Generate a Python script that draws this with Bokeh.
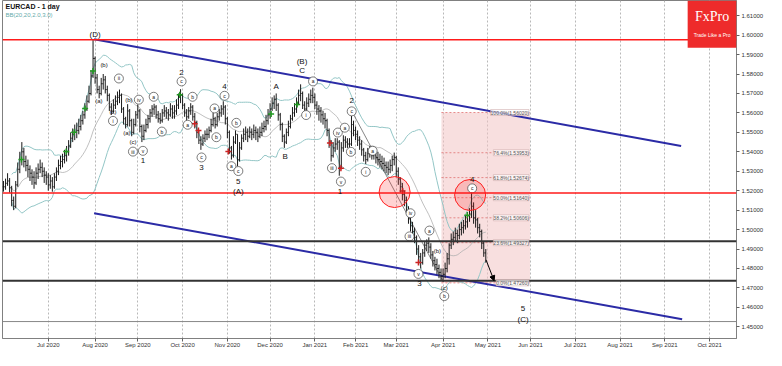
import numpy as np
import pandas as pd
from bokeh.plotting import figure
from bokeh.models import (ColumnDataSource, Range1d, FixedTicker, Span, BoxAnnotation,
                          Label, LabelSet, Arrow, NormalHead, NumeralTickFormatter)
from bokeh.embed import file_html
from bokeh.resources import INLINE
from bokeh.core.properties import value

# ---------------- data (prices in 1e-4 units, one bar per trading day from 1 Jun 2020) -------------
close = [15220,15238,15250,15215,15150,15120,15230,15310,15360,15400,
         15350,15330,15310,15290,15270,15240,15290,15310,15320,15300,
         15280,15270,15230,15250,15220,15270,15300,15330,15350,15360,
         15380,15400,15430,15470,15490,15500,15510,15530,15560,15590,
         15620,15660,15700,15790,15880,15780,15720,15700,15750,15770,
         15720,15690,15630,15610,15640,15660,15680,15690,15620,15570,
         15540,15610,15560,15500,15540,15590,15610,15530,15480,15510,
         15540,15570,15600,15620,15630,15590,15570,15560,15600,15610,
         15600,15590,15620,15600,15610,15640,15680,15690,15640,15600,
         15580,15610,15630,15580,15550,15500,15460,15440,15470,15490,
         15490,15510,15540,15570,15540,15580,15600,15620,15630,15570,
         15500,15420,15380,15450,15490,15360,15420,15470,15490,15500,
         15480,15500,15490,15510,15500,15480,15500,15520,15530,15560,
         15590,15620,15650,15670,15640,15590,15540,15480,15450,15500,
         15530,15570,15600,15620,15650,15690,15700,15640,15620,15650,
         15670,15690,15680,15640,15620,15610,15590,15570,15560,15510,
         15450,15380,15420,15440,15450,15320,15420,15460,15450,15440,
         15440,15540,15510,15490,15460,15440,15410,15380,15360,15390,
         15400,15380,15390,15370,15360,15350,15340,15330,15320,15310,
         15330,15360,15370,15300,15260,15220,15180,15150,15100,15060,
         15020,14990,14960,14900,14860,14830,14880,14920,14930,14910,
         14870,14840,14820,14800,14780,14760,14770,14800,14850,14920,
         14950,14960,14980,14970,15000,15010,15020,15040,15070,15080,
         15120,15060,15050,15010,14990,14930,14880,14842]
high = [15250,15262,15290,15265,15225,15170,15250,15345,15400,15450,
        15420,15380,15360,15330,15310,15300,15320,15340,15360,15345,
        15320,15300,15290,15280,15270,15290,15320,15360,15380,15390,
        15410,15430,15460,15500,15520,15540,15550,15570,15590,15610,
        15650,15690,15740,15820,15976,15890,15800,15740,15780,15800,
        15790,15740,15700,15650,15670,15690,15710,15720,15700,15630,
        15580,15645,15620,15570,15570,15610,15643,15620,15540,15540,
        15570,15590,15620,15640,15647,15640,15610,15600,15620,15640,
        15630,15620,15650,15640,15640,15670,15700,15722,15700,15650,
        15620,15630,15650,15640,15600,15560,15510,15480,15490,15510,
        15520,15530,15570,15600,15580,15600,15620,15640,15660,15640,
        15580,15510,15430,15480,15510,15490,15450,15490,15520,15530,
        15520,15530,15520,15540,15530,15520,15530,15550,15560,15590,
        15620,15650,15680,15690,15700,15650,15600,15550,15490,15520,
        15560,15590,15630,15650,15680,15720,15747,15710,15660,15680,
        15700,15720,15730,15700,15660,15640,15630,15610,15600,15570,
        15520,15460,15450,15470,15470,15460,15450,15485,15480,15470,
        15470,15584,15560,15530,15510,15480,15460,15420,15400,15420,
        15430,15420,15420,15410,15400,15390,15380,15370,15350,15350,
        15360,15380,15396,15380,15320,15270,15240,15200,15170,15120,
        15080,15040,15010,14970,14920,14880,14900,14940,14950,14960,
        14930,14890,14860,14850,14820,14800,14800,14830,14880,14930,
        14980,14990,15010,15000,15030,15040,15050,15070,15090,15110,
        15193,15140,15100,15060,15030,15000,14940,14900]
low = [15195,15205,15225,15190,15120,15100,15110,15220,15290,15330,
       15320,15300,15270,15250,15230,15210,15230,15260,15290,15270,
       15240,15230,15200,15210,15195,15210,15250,15280,15310,15320,
       15340,15350,15380,15420,15450,15460,15470,15490,15510,15540,
       15570,15610,15650,15690,15780,15750,15700,15675,15690,15720,
       15700,15660,15610,15590,15600,15620,15640,15650,15600,15540,
       15520,15530,15530,15480,15490,15530,15570,15500,15450,15460,
       15500,15520,15550,15580,15590,15570,15550,15544,15550,15580,
       15570,15560,15580,15570,15570,15590,15620,15650,15620,15580,
       15560,15570,15590,15560,15520,15470,15440,15410,15430,15450,
       15460,15470,15500,15530,15520,15530,15560,15580,15590,15540,
       15470,15390,15360,15370,15440,15326,15350,15410,15450,15460,
       15450,15470,15460,15470,15460,15450,15470,15480,15500,15510,
       15540,15570,15610,15620,15610,15560,15510,15450,15420,15440,
       15480,15520,15560,15580,15600,15640,15660,15620,15600,15610,
       15630,15650,15650,15620,15590,15560,15550,15540,15520,15480,
       15420,15350,15370,15400,15410,15277,15310,15400,15420,15420,
       15420,15430,15480,15460,15430,15410,15380,15350,15337,15350,
       15370,15360,15360,15340,15330,15320,15310,15300,15290,15280,
       15290,15300,15330,15270,15230,15190,15150,15120,15080,15030,
       14990,14970,14930,14870,14830,14800,14820,14860,14890,14880,
       14850,14810,14790,14770,14750,14740,14731,14750,14780,14820,
       14900,14920,14940,14930,14950,14970,14980,15000,15010,15040,
       15060,15030,15010,14980,14960,14900,14860,14830]

month_ticks = [22, 45, 66, 88, 110, 131, 153, 173, 193, 216, 238, 259, 281, 303, 325, 347]
month_labels = ["Jul 2020", "Aug 2020", "Sep 2020", "Oct 2020", "Nov 2020", "Dec 2020",
                "Jan 2021", "Feb 2021", "Mar 2021", "Apr 2021", "May 2021", "Jun 2021",
                "Jul 2021", "Aug 2021", "Sep 2021", "Oct 2021"]
price_ticks = [1.45, 1.46, 1.47, 1.48, 1.49, 1.50, 1.51, 1.52, 1.53, 1.54, 1.55, 1.56, 1.57, 1.58, 1.59, 1.60, 1.61]

# horizontal levels
red_levels = [1.5976, 1.5188]
black_levels = [1.4940, 1.4737]
gray_level = 1.45271
last_price = 1.48418

# channel lines (bar index, price)
chan_up_x, chan_up_y = [44.5, 333.0], [1.5979, 1.5430]
chan_lo_x, chan_lo_y = [44.5, 333.5], [1.5084, 1.4539]
trend_x, trend_y = [171.2, 216.1], [1.5608, 1.4732]
arrow_pts = [(237.2, 1.4842), (241.1, 1.4737)]

# fibonacci retracement
fib_x0, fib_x1 = 215.2, 258.7
fib_lo, fib_hi = 1.47260, 1.56020
fib_levels = [0.0, 23.6, 38.2, 50.0, 61.8, 76.4, 100.0]

# highlight circles
circ_x, circ_y = [192.2, 229.3], [1.5193, 1.5178]

# wave labels
big_lbl = [("(D)", 45.0, 1.6004), ("2", 87.5, 1.5806), ("4", 108.6, 1.5737), ("1", 68.5, 1.5356),
           ("3", 97.3, 1.5321), ("5", 115.4, 1.5247), ("(A)", 115.4, 1.5198), ("A", 134.0, 1.5737),
           ("B", 138.4, 1.5376), ("(B)", 146.7, 1.5866), ("C", 146.7, 1.5816), ("1", 165.3, 1.5198),
           ("2", 171.1, 1.5663), ("3", 204.4, 1.4722), ("4", 230.3, 1.5257), ("5", 255.3, 1.4594),
           ("(C)", 255.3, 1.4539)]
par_lbl = [("(a)", 46.9, 1.5663), ("(b)", 49.4, 1.5846), ("(c)", 53.8, 1.5604), ("(a)", 60.6, 1.5495),
           ("(b)", 61.6, 1.5668), ("(c)", 63.6, 1.5450), ("(b)", 213.2, 1.4891), ("(c)", 216.6, 1.4702)]
circ_lbl = [("i", 53.8, 1.5559), ("ii", 56.7, 1.5777), ("iii", 63.6, 1.5401), ("iv", 66.5, 1.5668),
            ("v", 68.5, 1.5405), ("a", 73.8, 1.5683), ("b", 77.8, 1.5504), ("c", 87.5, 1.5762),
            ("a", 90.5, 1.5539), ("b", 92.9, 1.5683), ("c", 97.3, 1.5371), ("a", 103.7, 1.5623),
            ("b", 104.6, 1.5475), ("c", 108.6, 1.5688), ("a", 112.0, 1.5326), ("b", 114.4, 1.5549),
            ("c", 115.4, 1.5301), ("a", 152.1, 1.5762), ("i", 148.7, 1.5589), ("iii", 161.4, 1.5316),
            ("iv", 164.3, 1.5499), ("v", 165.8, 1.5247), ("a", 167.7, 1.5524), ("b", 170.7, 1.5400),
            ("c", 171.1, 1.5608), ("i", 178.0, 1.5297), ("a", 181.4, 1.5405), ("iv", 200.0, 1.5084),
            ("iii", 199.5, 1.4965), ("v", 203.9, 1.4772), ("a", 209.3, 1.4995), ("b", 216.6, 1.4658),
            ("c", 230.3, 1.5212)]
green_x = [8.8, 30.8, 34.7, 40.1, 44.0, 86.6, 131.5, 144.3, 227.9]
green_y = [1.5361, 1.5401, 1.5500, 1.5623, 1.5816, 1.5693, 1.5594, 1.5643, 1.5074]
red_x = [93.9, 95.8, 110.5, 160.4, 165.8, 196.1, 203.9]
red_y = [1.5544, 1.5509, 1.5401, 1.5445, 1.5316, 1.5198, 1.4831]

# ---------------- build ----------------
FONT = "Liberation Sans"
n = len(close)
idx = np.arange(n)
c = np.array(close) / 1e4
o = np.concatenate([[c[0]], c[:-1]])
h = np.maximum(np.array(high) / 1e4, np.maximum(o, c))
l = np.minimum(np.array(low) / 1e4, np.minimum(o, c))

s = pd.Series(c)
mid = s.rolling(20, min_periods=5).mean()
sd = s.rolling(20, min_periods=5).std(ddof=0)
bb = ColumnDataSource(dict(x=idx, mid=mid, up=mid + 2 * sd, lo=mid - 2 * sd))

X_END = 360.2
Y_LO, Y_HI = 1.4440, 1.6178
p = figure(width=766, height=350, x_range=Range1d(-0.5, X_END), y_range=Range1d(Y_LO, Y_HI),
           output_backend="svg", toolbar_location=None, y_axis_location="right",
           min_border_left=2, min_border_top=0, min_border_bottom=0, min_border_right=0,
           background_fill_color="white", border_fill_color="white")
p.outline_line_color = "#808080"

p.xaxis.ticker = FixedTicker(ticks=month_ticks)
p.xaxis.major_label_overrides = {t: lab for t, lab in zip(month_ticks, month_labels)}
p.yaxis.ticker = FixedTicker(ticks=price_ticks)
p.yaxis.formatter = NumeralTickFormatter(format="0.00000")
for ax in (p.xaxis, p.yaxis):
    ax.major_label_text_font_size = "6px"
    ax.major_label_text_font = FONT
    ax.major_label_text_color = "#333333"
    ax.axis_line_color = "#808080"
    ax.major_tick_line_color = "#606060"
    ax.minor_tick_line_color = None
    ax.major_tick_out = 3
    ax.major_tick_in = 0
p.xaxis.major_label_standoff = 0
p.yaxis.major_label_standoff = 2
p.xgrid.ticker = FixedTicker(ticks=month_ticks)
p.xgrid.grid_line_color = "#b8b8b8"
p.xgrid.grid_line_dash = "2 2"
p.ygrid.grid_line_color = None

# fibonacci box
p.add_layout(BoxAnnotation(left=fib_x0, right=fib_x1, bottom=fib_lo, top=fib_hi,
                           fill_color="#f3c4c4", fill_alpha=0.55, line_color=None, level="underlay"))
fib_prices = [fib_lo + (fib_hi - fib_lo) * f / 100 for f in fib_levels]
p.segment(x0=[fib_x0] * len(fib_prices), x1=[fib_x1] * len(fib_prices), y0=fib_prices, y1=fib_prices,
          line_color="#e07070", line_width=0.8, line_dash="2 2")

# bollinger
p.line("x", "up", source=bb, line_color="#93c6c6", line_width=1)
p.line("x", "lo", source=bb, line_color="#93c6c6", line_width=1)
p.line("x", "mid", source=bb, line_color="#b0b0b0", line_width=0.8)

# horizontal levels
for lv in red_levels:
    p.add_layout(Span(location=lv, dimension="width", line_color="#ff1a1a", line_width=1.6))
for lv in black_levels:
    p.add_layout(Span(location=lv, dimension="width", line_color="#333333", line_width=2))
p.add_layout(Span(location=gray_level, dimension="width", line_color="#888888", line_width=1))

# channels and trend line
p.line(chan_up_x, chan_up_y, line_color="#2b2ba6", line_width=2)
p.line(chan_lo_x, chan_lo_y, line_color="#2b2ba6", line_width=2)
p.line(trend_x, trend_y, line_color="#666666", line_width=0.8)

# OHLC bars
p.segment(x0=idx, x1=idx, y0=l, y1=h, line_color="#1a1a1a", line_width=1)
p.segment(x0=idx - 0.45, x1=idx, y0=o, y1=o, line_color="#1a1a1a", line_width=1)
p.segment(x0=idx, x1=idx + 0.45, y0=c, y1=c, line_color="#1a1a1a", line_width=1)

# circles
p.scatter(circ_x, circ_y, size=31, marker="circle", fill_color="#ff3030", fill_alpha=0.22,
          line_color="#ff2020", line_width=1)

# signal markers
p.scatter(green_x, green_y, marker="cross", size=6, line_color="#229922", line_width=1.5)
p.scatter(red_x, red_y, marker="cross", size=6, line_color="#cc2222", line_width=1.5)

# wave labels
src_big = ColumnDataSource(dict(t=[a[0] for a in big_lbl], x=[a[1] for a in big_lbl], y=[a[2] for a in big_lbl]))
p.add_layout(LabelSet(x="x", y="y", text="t", source=src_big, text_font_size="8px", text_font=value(FONT),
                      text_align="center", text_baseline="middle", text_color="#111111"))
src_par = ColumnDataSource(dict(t=[a[0] for a in par_lbl], x=[a[1] for a in par_lbl], y=[a[2] for a in par_lbl]))
p.add_layout(LabelSet(x="x", y="y", text="t", source=src_par, text_font_size="6px", text_font=value(FONT),
                      text_align="center", text_baseline="middle", text_color="#111111"))
src_c = ColumnDataSource(dict(t=[a[0] for a in circ_lbl], x=[a[1] for a in circ_lbl], y=[a[2] for a in circ_lbl]))
p.scatter("x", "y", source=src_c, marker="circle", size=9, fill_color="white", line_color="#444444",
          line_width=0.7)
p.add_layout(LabelSet(x="x", y="y", text="t", source=src_c, text_font_size="5px", text_font=value(FONT),
                      text_align="center", text_baseline="middle", text_color="#111111"))

# fib labels
fib_txt = [f"{f:.1f}%({v:.5f})" for f, v in zip(fib_levels, fib_prices)]
src_f = ColumnDataSource(dict(t=fib_txt, x=[fib_x1] * len(fib_txt), y=fib_prices))
p.add_layout(LabelSet(x="x", y="y", text="t", source=src_f, text_font_size="5px", text_font=value(FONT),
                      text_align="right", text_baseline="middle", text_color="#555555", x_offset=-1,
                      background_fill_color="white", background_fill_alpha=0.7,
                      border_line_color="#c8a0a0", border_line_width=0.5))

# arrow
(ax0, ay0), (ax1, ay1) = arrow_pts
p.add_layout(Arrow(end=NormalHead(size=5, fill_color="black", line_color="black"),
                   x_start=ax0, y_start=ay0, x_end=ax1, y_end=ay1, line_color="black", line_width=1))

# price boxes on axis
for pr in (last_price, gray_level):
    p.add_layout(Label(x=X_END, y=pr, x_offset=2, text=f"{pr:.5f}", text_font_size="6px",
                       text_font=FONT, text_baseline="middle", text_color="#222222",
                       background_fill_color="white", border_line_color="#555555", border_line_width=0.7))

# header texts
p.add_layout(Label(x=-0.5, y=Y_HI, x_offset=3, y_offset=-2, text="EURCAD - 1 day", text_font_size="7px",
                   text_font=FONT, text_font_style="bold", text_baseline="top", text_color="#111111"))
p.add_layout(Label(x=-0.5, y=Y_HI, x_offset=3, y_offset=-11, text="BB(20,20,2.0,3.0)", text_font_size="6px",
                   text_font=FONT, text_baseline="top", text_color="#66aaaa"))

# logo
logo_left = 336.2
p.add_layout(BoxAnnotation(left=logo_left, right=X_END, bottom=1.5935, fill_color="#ee2b2b", fill_alpha=1,
                           line_color=None))
p.add_layout(Label(x=(logo_left + X_END) / 2, y=1.6095, text="FxPro", text_font_size="14px",
                   text_font="Liberation Serif", text_align="center", text_baseline="middle", text_color="white"))
p.add_layout(Label(x=(logo_left + X_END) / 2, y=1.6003, text="Trade Like a Pro", text_font_size="5px",
                   text_font=FONT, text_align="center", text_baseline="middle", text_color="white"))

open("out.html", "w").write(file_html(p, INLINE))
